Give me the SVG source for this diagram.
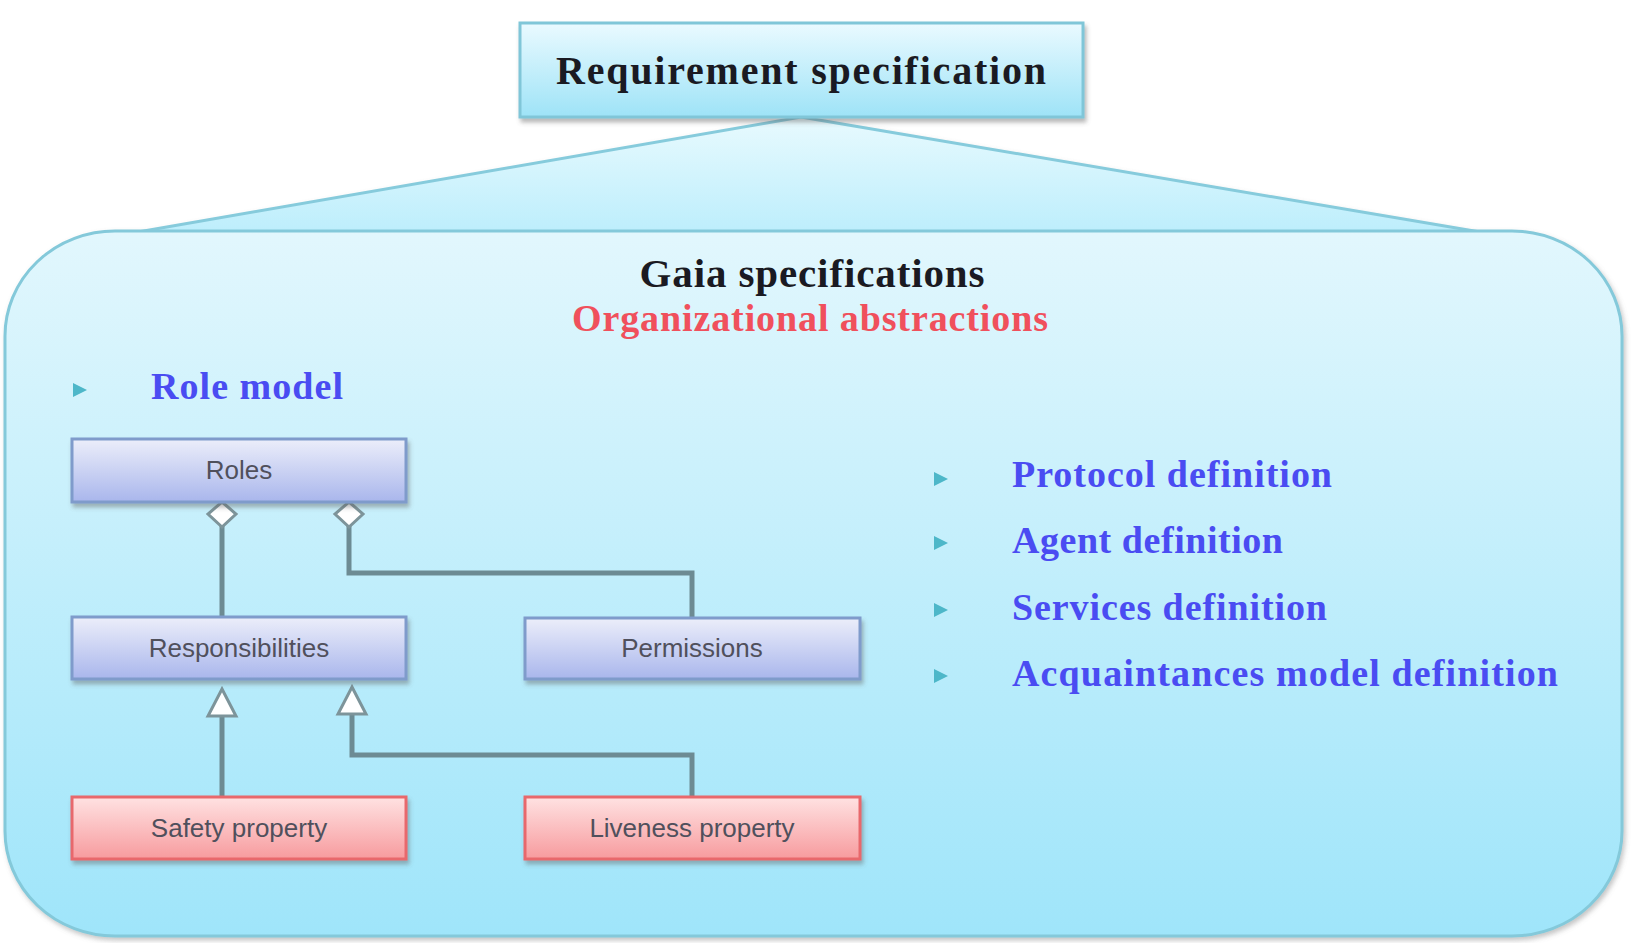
<svg xmlns="http://www.w3.org/2000/svg" width="1632" height="943" viewBox="0 0 1632 943">
<defs>
<linearGradient id="gBig" x1="0" y1="0" x2="0" y2="1">
<stop offset="0" stop-color="#e2f7fd"/>
<stop offset="1" stop-color="#9fe5fa"/>
</linearGradient>
<linearGradient id="gTri" x1="0" y1="0" x2="0" y2="1">
<stop offset="0" stop-color="#e8fafe"/>
<stop offset="1" stop-color="#bdeefc"/>
</linearGradient>
<linearGradient id="gTop" x1="0" y1="0" x2="0" y2="1">
<stop offset="0" stop-color="#eafaff"/>
<stop offset="1" stop-color="#9ee3f7"/>
</linearGradient>
<linearGradient id="gBlue" x1="0" y1="0" x2="0" y2="1">
<stop offset="0" stop-color="#eceefa"/>
<stop offset="1" stop-color="#a9b6ec"/>
</linearGradient>
<linearGradient id="gRed" x1="0" y1="0" x2="0" y2="1">
<stop offset="0" stop-color="#ffe2e2"/>
<stop offset="1" stop-color="#f79b9e"/>
</linearGradient>
<filter id="sh" x="-10%" y="-10%" width="120%" height="140%">
<feDropShadow dx="2" dy="4" stdDeviation="2" flood-color="#606060" flood-opacity="0.45"/>
</filter>
<filter id="shBig" x="-5%" y="-5%" width="110%" height="110%">
<feDropShadow dx="2" dy="3" stdDeviation="2.5" flood-color="#707070" flood-opacity="0.4"/>
</filter>
</defs>
<style>
.head{font-family:"Liberation Serif","Times New Roman",serif;font-weight:bold;fill:#1a1a22}
.red{font-family:"Liberation Serif","Times New Roman",serif;font-weight:bold;fill:#f0505c}
.item{font-family:"Liberation Serif","Times New Roman",serif;font-weight:bold;fill:#4a4cf2;font-size:38px}
.lbl{font-family:"Liberation Sans",Arial,sans-serif;font-size:26px;fill:#50505c;text-anchor:middle}
.bbox{fill:url(#gBlue);stroke:#7f9bcb;stroke-width:3}
.rbox{fill:url(#gRed);stroke:#e8686c;stroke-width:3}
.bul{fill:#4db7c9}
.conn{fill:none;stroke:#6d8b93;stroke-width:5}
.dia{fill:#ffffff;stroke:#7d949a;stroke-width:3}
</style>

<g id="callout" filter="url(#shBig)">
<polygon points="801,117 1480,232 138,232" fill="url(#gTri)" stroke="#86cbdc" stroke-width="3"/>
<rect x="5" y="231" width="1617" height="705" rx="110" ry="105" fill="url(#gBig)" stroke="#84c9da" stroke-width="3"/>
</g>

<g id="requirement">
<rect x="520" y="23" width="563" height="94" fill="url(#gTop)" stroke="#80c6d8" stroke-width="3" filter="url(#sh)"/>
<text class="head" x="801" y="84" font-size="40" text-anchor="middle" textLength="490" lengthAdjust="spacing">Requirement specification</text>
</g>

<g id="titles">
<text class="head" x="812" y="287" font-size="41" text-anchor="middle" textLength="345" lengthAdjust="spacing">Gaia specifications</text>
<text class="red" x="810" y="331" font-size="38" text-anchor="middle" textLength="476" lengthAdjust="spacing">Organizational abstractions</text>
</g>

<g id="role-model">
<polygon class="bul" points="73,383 87,390 73,397"/>
<text class="item" x="151" y="399" textLength="192" lengthAdjust="spacing">Role model</text>
</g>

<g id="list">
<polygon class="bul" points="934,472 948,479 934,486"/>
<text class="item" x="1012" y="487" textLength="320" lengthAdjust="spacing">Protocol definition</text>
<polygon class="bul" points="934,536 948,543 934,550"/>
<text class="item" x="1012" y="553" textLength="271" lengthAdjust="spacing">Agent definition</text>
<polygon class="bul" points="934,603 948,610 934,617"/>
<text class="item" x="1012" y="620" textLength="315" lengthAdjust="spacing">Services definition</text>
<polygon class="bul" points="934,669 948,676 934,683"/>
<text class="item" x="1012" y="686" textLength="546" lengthAdjust="spacing">Acquaintances model definition</text>
</g>

<g id="connectors">
<line class="conn" x1="222" y1="526" x2="222" y2="617"/>
<polyline class="conn" points="349,526 349,573 692,573 692,618"/>
<line class="conn" x1="222" y1="716" x2="222" y2="797"/>
<polyline class="conn" points="352,714 352,755 692,755 692,797"/>
<polygon class="dia" points="222,502 236,514 222,527 208,514"/>
<polygon class="dia" points="349,502 363,514 349,527 335,514"/>
<polygon class="dia" points="222,689 236,716 208,716"/>
<polygon class="dia" points="352,687 366,714 338,714"/>
</g>

<g id="roles">
<rect class="bbox" x="72" y="439" width="334" height="63" filter="url(#sh)"/>
<text class="lbl" x="239" y="479">Roles</text>
</g>
<g id="responsibilities">
<rect class="bbox" x="72" y="617" width="334" height="62" filter="url(#sh)"/>
<text class="lbl" x="239" y="657">Responsibilities</text>
</g>
<g id="permissions">
<rect class="bbox" x="525" y="618" width="335" height="61" filter="url(#sh)"/>
<text class="lbl" x="692" y="657">Permissions</text>
</g>
<g id="safety">
<rect class="rbox" x="72" y="797" width="334" height="62" filter="url(#sh)"/>
<text class="lbl" x="239" y="837">Safety property</text>
</g>
<g id="liveness">
<rect class="rbox" x="525" y="797" width="335" height="62" filter="url(#sh)"/>
<text class="lbl" x="692" y="837">Liveness property</text>
</g>
</svg>
